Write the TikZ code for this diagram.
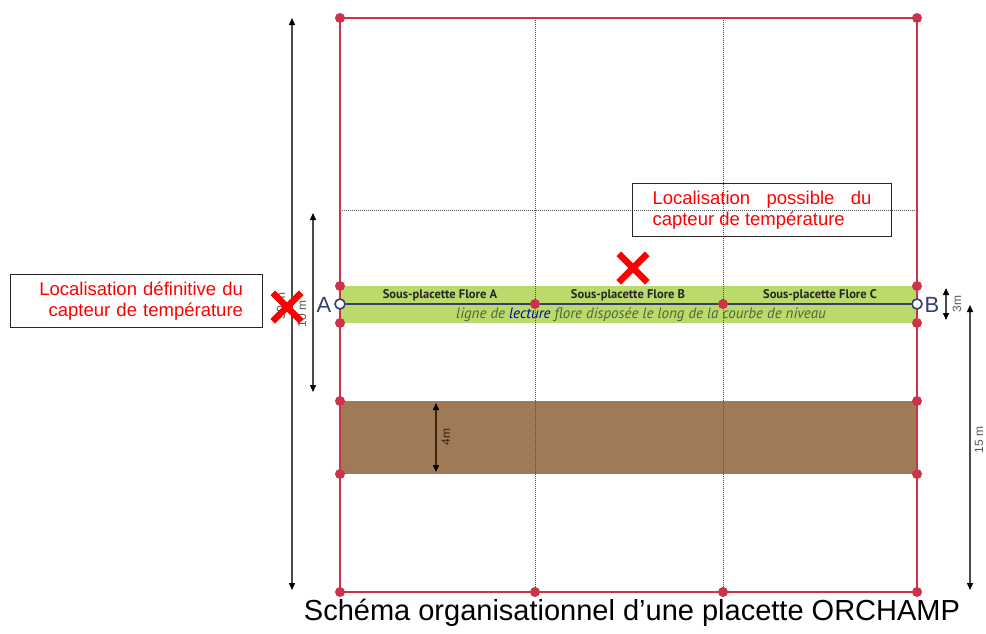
\documentclass[tikz,border=0pt]{standalone}
\usepackage{fontspec}
\setmainfont{Liberation Sans}
\newfontfamily\bandfont{PT Sans}
\usetikzlibrary{arrows.meta,shapes.misc}
\definecolor{plotred}{RGB}{205,50,75}
\definecolor{bandgreen}{RGB}{186,218,108}
\definecolor{soilbrown}{RGB}{160,121,86}
\definecolor{navy}{RGB}{52,62,112}
\definecolor{linegreen}{RGB}{78,100,62}
\begin{document}
\begin{tikzpicture}[
  x=1pt, y=-1pt,
  border/.style={draw=plotred, line width=2.8pt},
  grid/.style={draw=gray!60!black, densely dotted, line width=1pt},
  dot/.style={circle, fill=plotred, inner sep=0pt, minimum size=10pt},
  endpt/.style={circle, draw=navy, fill=white, line width=1.6pt, inner sep=0pt, minimum size=10pt},
  note/.style={draw=black!85, line width=1pt, text=red, inner ysep=7pt, font=\fontsize{18.5}{21.5}\selectfont},
  cross/.style={cross out, draw=red, line width=6.5pt, minimum size=22pt, inner sep=0pt},
  cote/.style={draw=gray!60!black, line width=1.4pt, {Triangle[length=7pt,width=6pt,color=black]}-{Triangle[length=7pt,width=6pt,color=black]}},
  cotelbl/.style={rotate=90, text=gray!70!black, font=\fontsize{12}{13}\selectfont},
  sub/.style={text=black!85, font=\bandfont\bfseries\fontsize{12.5}{13}\selectfont},
  letter/.style={text=navy, font=\fontsize{22}{24}\selectfont}]
  \useasboundingbox (0,0) rectangle (986,633);
  % corners and band edges of the plot
  \coordinate (tl) at (340,18);  \coordinate (tr) at (917,18);
  \coordinate (bl) at (340,592); \coordinate (br) at (917,592);
  \coordinate (b1) at (535,592); \coordinate (b2) at (723,592);
  \coordinate (la) at (340,286); \coordinate (ra) at (917,286);
  \coordinate (lb) at (340,323); \coordinate (rb) at (917,323);
  \coordinate (lc) at (340,401); \coordinate (rc) at (917,401);
  \coordinate (ld) at (340,474); \coordinate (rd) at (917,474);
  \coordinate (m1) at (535,304); \coordinate (m2) at (723,304);
  \fill[bandgreen] (la) rectangle (rb);
  \fill[soilbrown] (lc) rectangle (rd);
  % dotted grid
  \draw[grid] (535,18) -- (b1);
  \draw[grid] (723,18) -- (b2);
  \draw[grid] (340,210) -- (917,210);
  \draw[border] (tl) rectangle (br);
  \node[endpt] (A) at (340,304) {};
  \node[endpt] (B) at (917,304) {};
  \draw[navy, line width=2pt] (A) -- (B);
  \foreach \p in {tl,tr,bl,br,b1,b2,la,ra,lb,rb,lc,rc,ld,rd,m1,m2}
    \node[dot] (d\p) at (\p) {};
  \node[letter] (lA) at (324,305) {A};
  \node[letter] (lB) at (932,305) {B};
  % band labels
  \node[sub] (sa) at (440,295) {Sous-placette Flore A};
  \node[sub] (sb) at (628,295) {Sous-placette Flore B};
  \node[sub] (sc) at (820,295) {Sous-placette Flore C};
  \node[text=linegreen, font=\bandfont\itshape\fontsize{15}{16}\selectfont] (lec) at (641,315)
    {ligne de \textcolor{blue!70!black}{lecture} flore disposée le long de la courbe de niveau};
  % dimensions
  \coordinate (o1) at (292,18);  \coordinate (o2) at (292,590);
  \coordinate (t1) at (313,213); \coordinate (t2) at (313,392);
  \coordinate (h1) at (946,288); \coordinate (h2) at (946,320);
  \coordinate (f1) at (970,305); \coordinate (f2) at (970,590);
  \coordinate (s1) at (436,403); \coordinate (s2) at (436,472);
  \draw[cote] (o1) -- (o2);
  \draw[cote] (t1) -- (t2);
  \draw[cote] (h1) -- (h2);
  \draw[cote] (f1) -- (f2);
  \draw[cote, draw=black!70!brown] (s1) -- (s2);
  \node[cotelbl] (lo) at (281,306) {30 m};
  \node[cotelbl] (lt) at (302,314) {10 m};
  \node[cotelbl] (lh) at (957,304) {3m};
  \node[cotelbl] (lf) at (979,440) {15 m};
  \node[cotelbl, text=black!70!brown] (ls) at (446,437) {4m};
  % sensor locations
  \node[cross] (x1) at (287,307) {};
  \node[cross] (x2) at (633,268) {};
  \node[note, text width=214pt, inner xsep=19pt, align=right] (n1) at (136,301)
    {Localisation définitive du\\capteur de température};
  \node[note, text width=219pt, inner xsep=20pt, align=justify] (n2) at (762,210)
    {Localisation possible du\linebreak capteur de température};
  \node[font=\fontsize{29}{32}\selectfont] (cap) at (632,613)
    {Schéma organisationnel d’une placette ORCHAMP};
\end{tikzpicture}
\end{document}
